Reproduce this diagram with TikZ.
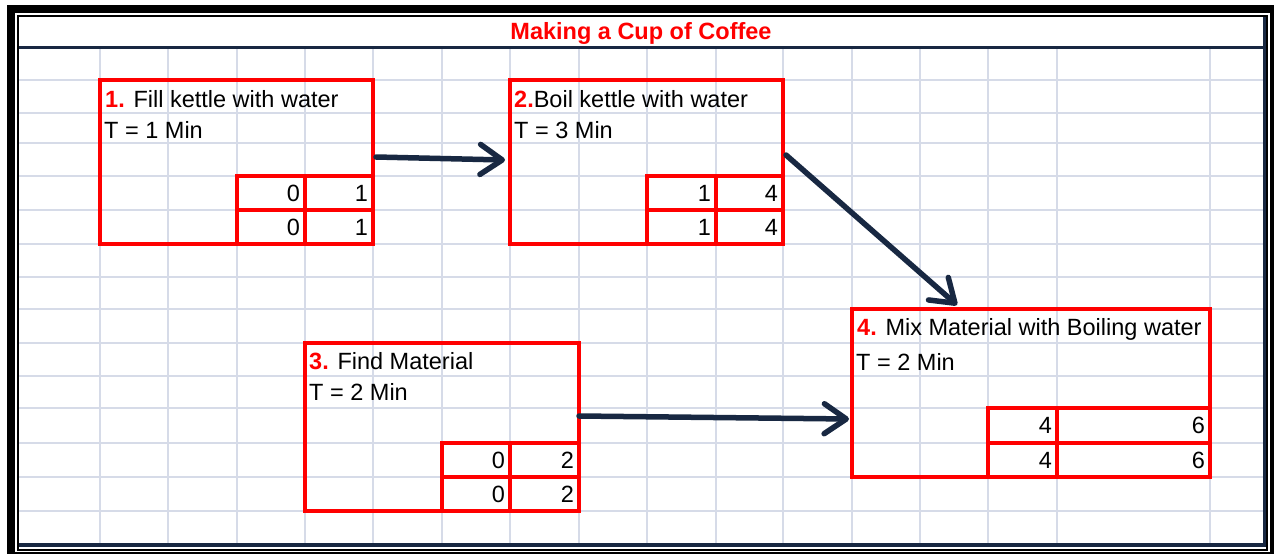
\documentclass[tikz,border=0pt]{standalone}
\usepackage{fontspec}
\setmainfont{Liberation Sans}
\usetikzlibrary{arrows.meta}
\definecolor{gridc}{RGB}{214,219,232}
\definecolor{navy}{RGB}{24,40,66}
\definecolor{boxred}{RGB}{255,0,0}
\begin{document}
\begin{tikzpicture}[x=1pt,y=-1pt,
  font=\fontsize{23.5}{28}\selectfont,
  gridline/.style={draw=gridc,line width=1.6pt},
  box/.style={draw=boxred,line width=4.5pt,anchor=north west,inner sep=0pt,outer sep=0pt},
  cell/.style={draw=boxred,line width=4.5pt,anchor=north west,inner xsep=5pt,inner ysep=0pt,outer sep=0pt,align=right,minimum height=34pt},
  lbl/.style={anchor=base west,inner sep=0pt},
  arr/.style={draw=navy,line width=5.5pt,line cap=round,-{Straight Barb[length=22pt,width=30pt,round]}}]
\useasboundingbox (0,0) rectangle (1274,554);
% outer frame
\fill[black] (7,5) rectangle (1274,554);
\fill[white] (15,13) rectangle (1270,552);
% grid
\foreach \x in {100,168,237,305,373,442,510,579,647,716,783,852,920,988,1057,1210}
  \draw[gridline] (\x,48) -- (\x,544);
\foreach \y in {80,113,143,176,210,244,277,309,343,376,408,443,477,511}
  \draw[gridline] (18,\y) -- (1263,\y);
% navy borders and thin frame
\draw[navy,line width=3.5pt] (18,47.5) -- (1265,47.5);
\draw[navy,line width=4pt] (1265,17) -- (1265,547);
\draw[navy,line width=4pt] (18,545) -- (1267,545);
\draw[black,line width=2pt] (17.5,16) rectangle (1267,549.7);
% title
\node[text=boxred,font=\fontsize{23.5}{28}\selectfont\bfseries] (title) at (641,33) {Making a Cup of Coffee};
% boxes
\node[box,minimum width=273pt,minimum height=164pt] (b1) at (100,80) {};
\node[box,minimum width=273pt,minimum height=164pt] (b2) at (510,80) {};
\node[box,minimum width=274pt,minimum height=168pt] (b3) at (305,343) {};
\node[box,minimum width=358pt,minimum height=168pt] (b4) at (852,309) {};
% labels
\node[lbl] (t1a) at (105,107) {{\color{boxred}\bfseries 1.} Fill kettle with water};
\node[lbl] (t1b) at (104,138) {T = 1 Min};
\node[lbl] (t2a) at (514,107) {{\color{boxred}\bfseries 2.}Boil kettle with water};
\node[lbl] (t2b) at (514,138) {T = 3 Min};
\node[lbl] (t3a) at (309,369) {{\color{boxred}\bfseries 3.} Find Material};
\node[lbl] (t3b) at (309,400) {T = 2 Min};
\node[lbl] (t4a) at (857,335) {{\color{boxred}\bfseries 4.} Mix Material with Boiling water};
\node[lbl] (t4b) at (856,370) {T = 2 Min};
% cells
\node[cell,text width=58pt] (c1a) at (237,176) {0};
\node[cell,text width=58pt] (c1b) at (305,176) {1};
\node[cell,text width=58pt] (c1c) at (237,210) {0};
\node[cell,text width=58pt] (c1d) at (305,210) {1};
\node[cell,text width=59pt] (c2a) at (647,176) {1};
\node[cell,text width=57pt] (c2b) at (716,176) {4};
\node[cell,text width=59pt] (c2c) at (647,210) {1};
\node[cell,text width=57pt] (c2d) at (716,210) {4};
\node[cell,text width=58pt] (c3a) at (442,443) {0};
\node[cell,text width=59pt] (c3b) at (510,443) {2};
\node[cell,text width=58pt] (c3c) at (442,477) {0};
\node[cell,text width=59pt] (c3d) at (510,477) {2};
\node[cell,text width=59pt,minimum height=35pt] (c4a) at (988,408) {4};
\node[cell,text width=143pt,minimum height=35pt] (c4b) at (1057,408) {6};
\node[cell,text width=59pt] (c4c) at (988,443) {4};
\node[cell,text width=143pt] (c4d) at (1057,443) {6};
% arrows
\draw[arr] ([shift={(3,-5)}]b1.east) -- ([shift={(-5,-2)}]b2.west);
\draw[arr] ([shift={(3,-7)}]b2.east) -- ([shift={(-74,-4)}]b4.north);
\draw[arr] ([shift={(0,-11)}]b3.east) -- ([shift={(-3,26)}]b4.west);
\end{tikzpicture}
\end{document}
